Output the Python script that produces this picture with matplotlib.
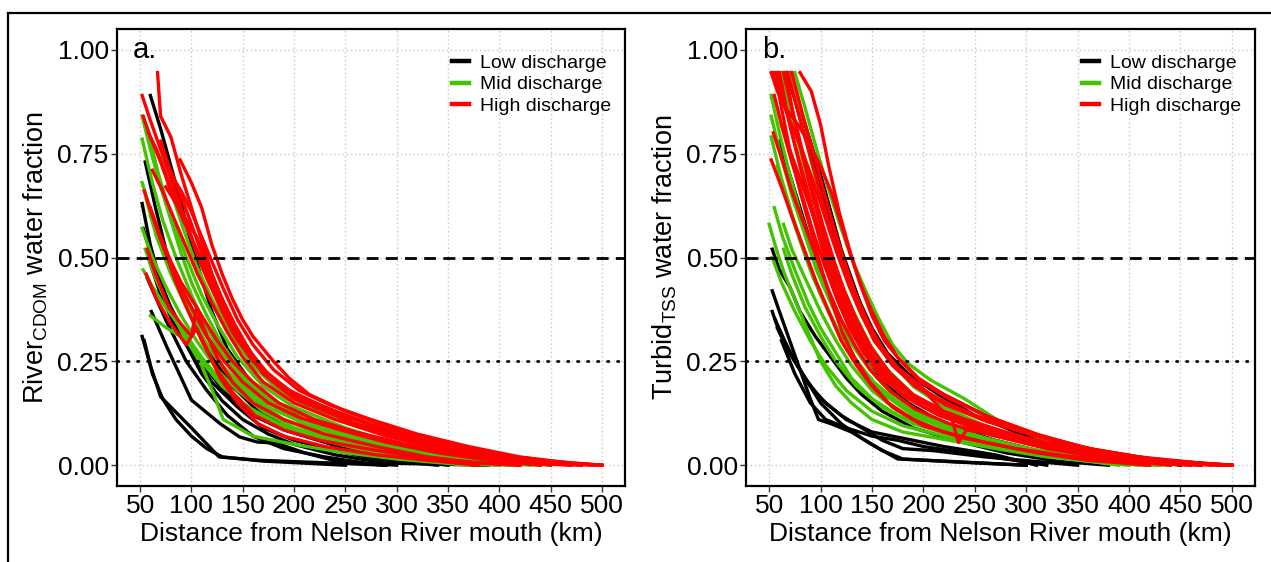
import matplotlib
matplotlib.use("Agg")
import matplotlib.pyplot as plt
from matplotlib.lines import Line2D

plt.rcParams["font.family"] = ["Liberation Sans", "DejaVu Sans"]

# ---- data: each curve is a list of (distance km, water fraction) points ----
A_LOW = [
    [(52, 0.31), (60, 0.24), (70, 0.165), (76, 0.15), (100, 0.09), (127, 0.02), (165, 0.012), (240, 0.005), (290, 0.0)],
    [(54, 0.30), (62, 0.22), (72, 0.16), (85, 0.11), (100, 0.07), (115, 0.04), (130, 0.02), (170, 0.01), (250, 0.0)],
    [(61, 0.37), (76, 0.285), (100, 0.157), (128, 0.10), (147, 0.068), (164, 0.056), (183, 0.053), (210, 0.03), (238, 0.012), (287, 0.0)],
    [(52, 0.63), (60, 0.53), (70, 0.44), (80, 0.37), (95, 0.29), (110, 0.22), (130, 0.155), (150, 0.11), (175, 0.075), (200, 0.05), (240, 0.025), (290, 0.005), (390, 0.0)],
    [(60, 0.89), (70, 0.81), (80, 0.72), (90, 0.63), (100, 0.53), (110, 0.45), (120, 0.37), (135, 0.28), (155, 0.21), (180, 0.15), (210, 0.11), (250, 0.075), (300, 0.04), (350, 0.015), (390, 0.0)],
    [(55, 0.73), (65, 0.62), (75, 0.52), (90, 0.41), (105, 0.33), (120, 0.26), (140, 0.19), (165, 0.13), (200, 0.08), (250, 0.04), (300, 0.015), (350, 0.0)],
    [(53, 0.57), (65, 0.47), (80, 0.38), (95, 0.31), (115, 0.23), (135, 0.17), (160, 0.12), (190, 0.085), (230, 0.055), (270, 0.03), (320, 0.01), (380, 0.0)],
    [(58, 0.50), (70, 0.41), (85, 0.33), (100, 0.27), (120, 0.20), (145, 0.14), (170, 0.09), (200, 0.06), (240, 0.035), (280, 0.015), (340, 0.0)],
    [(57, 0.45), (75, 0.35), (95, 0.25), (115, 0.18), (135, 0.12), (160, 0.07), (190, 0.04), (230, 0.02), (270, 0.005), (300, 0.0)],
]

A_MID = [
    [(52, 0.84), (60, 0.76), (70, 0.67), (80, 0.59), (90, 0.51), (100, 0.44), (115, 0.36), (130, 0.29), (150, 0.22), (175, 0.16), (200, 0.12), (250, 0.075), (300, 0.04), (350, 0.02), (400, 0.005), (440, 0.0)],
    [(52, 0.785), (62, 0.68), (72, 0.59), (85, 0.50), (100, 0.41), (115, 0.33), (130, 0.27), (150, 0.21), (175, 0.15), (210, 0.10), (260, 0.06), (320, 0.03), (380, 0.01), (430, 0.0)],
    [(52, 0.68), (62, 0.60), (72, 0.52), (85, 0.44), (100, 0.36), (115, 0.29), (135, 0.22), (160, 0.16), (190, 0.11), (230, 0.07), (280, 0.04), (340, 0.015), (400, 0.0)],
    [(52, 0.57), (62, 0.50), (75, 0.43), (90, 0.36), (105, 0.30), (125, 0.23), (145, 0.18), (170, 0.13), (200, 0.09), (250, 0.05), (300, 0.025), (360, 0.005), (410, 0.0)],
    [(53, 0.47), (62, 0.43), (75, 0.38), (90, 0.33), (110, 0.26), (130, 0.20), (150, 0.15), (180, 0.10), (220, 0.065), (270, 0.035), (330, 0.01), (380, 0.0)],
    [(60, 0.36), (76, 0.33), (96, 0.30), (110, 0.24), (122, 0.17), (131, 0.11), (160, 0.07), (200, 0.05), (250, 0.03), (300, 0.015), (370, 0.0)],
    [(58, 0.80), (68, 0.70), (80, 0.60), (95, 0.50), (110, 0.41), (125, 0.34), (145, 0.26), (170, 0.19), (200, 0.14), (250, 0.09), (300, 0.05), (360, 0.02), (420, 0.0)],
    [(65, 0.58), (75, 0.50), (90, 0.42), (105, 0.35), (120, 0.29), (140, 0.23), (160, 0.18), (190, 0.13), (230, 0.09), (280, 0.05), (340, 0.02), (400, 0.0)],
    [(56, 0.64), (66, 0.55), (80, 0.46), (95, 0.38), (110, 0.31), (130, 0.24), (150, 0.19), (175, 0.14), (210, 0.10), (260, 0.06), (320, 0.025), (390, 0.0)],
    [(70, 0.74), (80, 0.66), (92, 0.57), (105, 0.48), (120, 0.40), (140, 0.31), (160, 0.24), (185, 0.18), (215, 0.14), (260, 0.10), (300, 0.07), (350, 0.035), (400, 0.015), (450, 0.0)],
    [(55, 0.52), (65, 0.45), (80, 0.37), (95, 0.30), (110, 0.25), (130, 0.19), (155, 0.14), (185, 0.10), (230, 0.06), (290, 0.03), (350, 0.01), (400, 0.0)],
    [(60, 0.60), (72, 0.52), (85, 0.45), (100, 0.38), (115, 0.31), (130, 0.27), (150, 0.22), (170, 0.17), (200, 0.13), (240, 0.09), (280, 0.06), (330, 0.03), (380, 0.01), (420, 0.0)],
]

A_HIGH = [
    [(67, 0.945), (70, 0.84), (80, 0.79), (90, 0.70), (100, 0.62), (110, 0.54), (120, 0.46), (135, 0.37), (150, 0.30), (170, 0.23), (195, 0.18), (220, 0.15), (260, 0.11), (300, 0.075), (350, 0.04), (400, 0.02), (450, 0.008), (500, 0.0)],
    [(52, 0.89), (60, 0.83), (70, 0.76), (80, 0.69), (90, 0.62), (100, 0.55), (110, 0.48), (125, 0.40), (140, 0.32), (160, 0.25), (185, 0.19), (215, 0.15), (260, 0.10), (300, 0.07), (350, 0.04), (400, 0.02), (450, 0.005), (490, 0.0)],
    [(53, 0.84), (60, 0.79), (70, 0.73), (80, 0.66), (92, 0.59), (105, 0.52), (120, 0.44), (135, 0.36), (150, 0.29), (170, 0.22), (200, 0.16), (240, 0.12), (280, 0.08), (330, 0.045), (380, 0.02), (430, 0.005), (470, 0.0)],
    [(89, 0.735), (100, 0.68), (110, 0.62), (120, 0.53), (130, 0.46), (140, 0.40), (150, 0.35), (160, 0.31), (170, 0.28), (180, 0.25), (195, 0.21), (215, 0.17), (250, 0.13), (300, 0.085), (350, 0.05), (400, 0.025), (450, 0.01), (500, 0.0)],
    [(57, 0.52), (65, 0.46), (78, 0.38), (90, 0.34), (100, 0.31), (105, 0.38), (112, 0.33), (125, 0.26), (140, 0.20), (160, 0.15), (190, 0.11), (230, 0.075), (280, 0.045), (330, 0.02), (380, 0.005), (420, 0.0)],
    [(58, 0.80), (66, 0.76), (75, 0.70), (85, 0.64), (95, 0.58), (105, 0.51), (115, 0.45), (130, 0.37), (145, 0.30), (165, 0.24), (190, 0.18), (220, 0.145), (260, 0.11), (310, 0.07), (360, 0.04), (410, 0.02), (460, 0.005), (500, 0.0)],
    [(70, 0.78), (78, 0.72), (88, 0.66), (100, 0.58), (110, 0.51), (122, 0.43), (135, 0.36), (150, 0.29), (170, 0.23), (195, 0.18), (230, 0.14), (270, 0.10), (320, 0.06), (370, 0.035), (420, 0.015), (470, 0.0)],
    [(62, 0.71), (72, 0.66), (82, 0.60), (94, 0.53), (106, 0.46), (120, 0.39), (135, 0.32), (150, 0.26), (170, 0.20), (200, 0.15), (240, 0.11), (290, 0.07), (340, 0.04), (390, 0.02), (440, 0.005), (480, 0.0)],
    [(75, 0.67), (85, 0.63), (95, 0.59), (105, 0.55), (115, 0.49), (128, 0.41), (142, 0.34), (158, 0.27), (178, 0.21), (205, 0.165), (240, 0.13), (280, 0.095), (330, 0.06), (380, 0.03), (430, 0.012), (480, 0.0)],
    [(60, 0.62), (70, 0.55), (80, 0.49), (90, 0.44), (100, 0.40), (110, 0.36), (125, 0.30), (140, 0.25), (160, 0.20), (185, 0.15), (220, 0.11), (260, 0.08), (310, 0.05), (360, 0.025), (410, 0.01), (450, 0.0)],
    [(56, 0.46), (66, 0.40), (80, 0.34), (95, 0.29), (105, 0.33), (115, 0.28), (128, 0.21), (145, 0.15), (165, 0.10), (190, 0.07), (230, 0.045), (280, 0.025), (330, 0.012), (380, 0.0)],
    [(80, 0.70), (90, 0.66), (100, 0.61), (110, 0.55), (120, 0.49), (132, 0.42), (145, 0.35), (160, 0.29), (180, 0.23), (205, 0.18), (235, 0.145), (275, 0.11), (320, 0.075), (370, 0.045), (420, 0.02), (470, 0.005), (500, 0.0)],
    [(65, 0.58), (75, 0.51), (85, 0.44), (97, 0.37), (110, 0.30), (125, 0.23), (142, 0.17), (162, 0.12), (190, 0.085), (225, 0.06), (270, 0.04), (320, 0.02), (370, 0.008), (420, 0.0)],
    [(54, 0.66), (62, 0.60), (72, 0.53), (85, 0.45), (100, 0.38), (115, 0.31), (132, 0.25), (150, 0.20), (175, 0.15), (205, 0.115), (245, 0.085), (290, 0.055), (340, 0.03), (390, 0.012), (440, 0.0)],
]

B_LOW = [
    [(53, 0.42), (60, 0.37), (70, 0.30), (80, 0.23), (90, 0.16), (98, 0.11), (110, 0.10), (130, 0.08), (150, 0.05), (175, 0.015), (220, 0.01), (300, 0.0)],
    [(53, 0.37), (60, 0.32), (70, 0.27), (85, 0.21), (100, 0.16), (120, 0.12), (140, 0.09), (160, 0.06), (180, 0.04), (210, 0.035), (260, 0.02), (350, 0.0)],
    [(56, 0.35), (65, 0.30), (75, 0.25), (90, 0.19), (105, 0.15), (125, 0.11), (150, 0.08), (180, 0.065), (220, 0.045), (270, 0.025), (310, 0.0)],
    [(58, 0.33), (70, 0.27), (85, 0.21), (100, 0.15), (120, 0.10), (140, 0.065), (160, 0.035), (180, 0.015), (230, 0.008), (300, 0.0)],
    [(53, 0.52), (60, 0.47), (70, 0.43), (80, 0.37), (95, 0.31), (110, 0.26), (125, 0.21), (140, 0.17), (160, 0.13), (190, 0.09), (230, 0.06), (280, 0.03), (330, 0.01), (380, 0.0)],
    [(70, 0.945), (80, 0.86), (90, 0.78), (100, 0.70), (110, 0.61), (120, 0.52), (130, 0.45), (140, 0.38), (155, 0.30), (170, 0.25), (190, 0.21), (220, 0.17), (260, 0.12), (310, 0.065), (360, 0.03), (420, 0.01), (470, 0.0)],
    [(67, 0.945), (75, 0.88), (85, 0.79), (95, 0.71), (105, 0.63), (115, 0.54), (125, 0.47), (135, 0.41), (150, 0.33), (165, 0.27), (185, 0.22), (215, 0.17), (250, 0.12), (300, 0.07), (350, 0.035), (400, 0.015), (450, 0.0)],
    [(60, 0.78), (70, 0.70), (80, 0.62), (90, 0.54), (100, 0.46), (112, 0.39), (125, 0.32), (140, 0.26), (160, 0.20), (185, 0.15), (220, 0.10), (270, 0.06), (320, 0.03), (370, 0.01), (420, 0.0)],
    [(62, 0.30), (75, 0.22), (90, 0.15), (105, 0.11), (125, 0.09), (150, 0.07), (175, 0.06), (200, 0.045), (240, 0.03), (280, 0.015), (320, 0.0)],
]

B_MID = [
    [(50, 0.58), (57, 0.52), (65, 0.46), (75, 0.40), (88, 0.32), (100, 0.25), (115, 0.19), (130, 0.15), (150, 0.11), (180, 0.08), (225, 0.06), (270, 0.04), (320, 0.02), (380, 0.005), (430, 0.0)],
    [(64, 0.58), (72, 0.52), (85, 0.45), (100, 0.37), (115, 0.30), (130, 0.24), (150, 0.18), (175, 0.13), (210, 0.09), (260, 0.055), (320, 0.025), (380, 0.008), (430, 0.0)],
    [(64, 0.52), (72, 0.46), (85, 0.38), (100, 0.31), (115, 0.25), (135, 0.19), (160, 0.14), (190, 0.10), (230, 0.07), (280, 0.04), (340, 0.015), (400, 0.0)],
    [(52, 0.89), (60, 0.80), (70, 0.70), (80, 0.61), (92, 0.52), (105, 0.43), (120, 0.35), (135, 0.28), (155, 0.21), (180, 0.15), (215, 0.10), (260, 0.065), (320, 0.03), (380, 0.01), (440, 0.0)],
    [(52, 0.84), (62, 0.74), (72, 0.65), (84, 0.56), (96, 0.47), (110, 0.39), (125, 0.31), (145, 0.24), (170, 0.17), (200, 0.12), (240, 0.08), (290, 0.045), (350, 0.02), (410, 0.0)],
    [(52, 0.79), (62, 0.69), (74, 0.59), (86, 0.50), (100, 0.41), (115, 0.33), (132, 0.26), (152, 0.20), (178, 0.145), (210, 0.10), (250, 0.07), (300, 0.04), (360, 0.015), (420, 0.0)],
    [(75, 0.945), (85, 0.86), (95, 0.77), (107, 0.67), (120, 0.57), (130, 0.50), (142, 0.43), (155, 0.36), (170, 0.29), (185, 0.245), (207, 0.205), (240, 0.16), (275, 0.104), (333, 0.044), (401, 0.019), (450, 0.007), (498, 0.0)],
    [(62, 0.945), (70, 0.86), (80, 0.76), (92, 0.65), (105, 0.54), (118, 0.45), (132, 0.37), (148, 0.29), (165, 0.23), (190, 0.17), (225, 0.12), (270, 0.08), (330, 0.04), (390, 0.015), (440, 0.0)],
    [(70, 0.945), (80, 0.84), (92, 0.72), (105, 0.60), (118, 0.50), (132, 0.41), (148, 0.33), (165, 0.26), (190, 0.19), (220, 0.14), (260, 0.095), (310, 0.055), (370, 0.025), (430, 0.0)],
    [(55, 0.62), (63, 0.55), (75, 0.47), (88, 0.39), (100, 0.33), (115, 0.27), (130, 0.21), (150, 0.16), (175, 0.12), (210, 0.09), (250, 0.06), (300, 0.035), (360, 0.012), (410, 0.0)],
    [(58, 0.72), (68, 0.63), (80, 0.54), (93, 0.45), (108, 0.37), (122, 0.30), (140, 0.23), (162, 0.17), (190, 0.12), (230, 0.08), (280, 0.05), (340, 0.02), (400, 0.0)],
    [(53, 0.50), (62, 0.44), (75, 0.37), (90, 0.30), (105, 0.24), (125, 0.18), (150, 0.13), (180, 0.095), (220, 0.07), (270, 0.045), (330, 0.02), (390, 0.0)],
]

B_HIGH = [
    [(52, 0.945), (58, 0.90), (66, 0.86), (78, 0.82), (90, 0.77), (100, 0.72), (110, 0.66), (120, 0.58), (130, 0.50), (140, 0.43), (150, 0.37), (162, 0.31), (175, 0.26), (195, 0.21), (220, 0.17), (260, 0.12), (310, 0.075), (360, 0.04), (420, 0.015), (470, 0.005), (500, 0.0)],
    [(80, 0.945), (91, 0.90), (100, 0.82), (108, 0.72), (118, 0.61), (128, 0.52), (138, 0.44), (150, 0.36), (162, 0.30), (178, 0.25), (198, 0.20), (225, 0.16), (265, 0.115), (315, 0.07), (370, 0.035), (430, 0.012), (500, 0.0)],
    [(52, 0.735), (62, 0.67), (72, 0.60), (84, 0.52), (96, 0.44), (108, 0.37), (120, 0.30), (135, 0.24), (150, 0.19), (170, 0.14), (200, 0.095), (240, 0.065), (290, 0.04), (340, 0.022), (400, 0.008), (460, 0.0)],
    [(60, 0.945), (66, 0.87), (74, 0.78), (84, 0.68), (94, 0.59), (104, 0.50), (115, 0.42), (127, 0.35), (140, 0.29), (155, 0.235), (175, 0.18), (200, 0.14), (240, 0.10), (290, 0.065), (340, 0.035), (400, 0.015), (460, 0.0)],
    [(64, 0.945), (72, 0.86), (82, 0.76), (92, 0.67), (102, 0.58), (112, 0.50), (123, 0.42), (135, 0.35), (150, 0.28), (168, 0.22), (190, 0.17), (220, 0.13), (260, 0.09), (310, 0.055), (370, 0.025), (430, 0.008), (480, 0.0)],
    [(55, 0.89), (63, 0.81), (72, 0.73), (82, 0.65), (93, 0.56), (104, 0.48), (116, 0.40), (128, 0.33), (142, 0.27), (160, 0.21), (185, 0.16), (215, 0.12), (255, 0.085), (305, 0.05), (360, 0.025), (420, 0.008), (470, 0.0)],
    [(68, 0.945), (76, 0.87), (86, 0.78), (96, 0.69), (106, 0.60), (116, 0.52), (127, 0.44), (139, 0.37), (152, 0.30), (168, 0.25), (188, 0.20), (215, 0.16), (250, 0.12), (300, 0.08), (350, 0.045), (410, 0.02), (470, 0.005), (500, 0.0)],
    [(58, 0.945), (64, 0.88), (72, 0.80), (82, 0.71), (93, 0.61), (104, 0.52), (115, 0.44), (126, 0.37), (140, 0.30), (155, 0.24), (175, 0.19), (200, 0.15), (235, 0.115), (280, 0.08), (330, 0.045), (390, 0.02), (450, 0.005), (490, 0.0)],
    [(54, 0.80), (62, 0.74), (72, 0.66), (84, 0.58), (96, 0.50), (108, 0.42), (120, 0.35), (133, 0.29), (148, 0.23), (167, 0.18), (192, 0.135), (225, 0.10), (270, 0.07), (320, 0.04), (380, 0.015), (440, 0.0)],
    [(62, 0.82), (70, 0.76), (80, 0.69), (90, 0.62), (100, 0.55), (111, 0.47), (122, 0.40), (134, 0.33), (148, 0.27), (165, 0.22), (188, 0.17), (220, 0.13), (255, 0.095), (300, 0.065), (350, 0.04), (400, 0.02), (450, 0.006), (500, 0.0)],
    [(72, 0.945), (82, 0.85), (92, 0.76), (102, 0.67), (112, 0.58), (122, 0.50), (133, 0.42), (145, 0.35), (158, 0.29), (175, 0.235), (198, 0.19), (215, 0.14), (228, 0.11), (234, 0.055), (242, 0.085), (280, 0.07), (330, 0.045), (390, 0.02), (450, 0.006), (500, 0.0)],
    [(56, 0.945), (62, 0.86), (70, 0.76), (80, 0.66), (90, 0.57), (100, 0.48), (110, 0.40), (121, 0.32), (133, 0.26), (148, 0.20), (166, 0.15), (190, 0.11), (220, 0.08), (260, 0.055), (310, 0.03), (360, 0.012), (420, 0.0)],
    [(66, 0.945), (73, 0.85), (82, 0.75), (92, 0.65), (102, 0.56), (113, 0.47), (125, 0.39), (138, 0.32), (152, 0.26), (170, 0.20), (195, 0.155), (230, 0.115), (275, 0.08), (325, 0.05), (380, 0.025), (440, 0.008), (490, 0.0)],
    [(54, 0.945), (61, 0.89), (70, 0.83), (80, 0.77), (92, 0.69), (104, 0.60), (116, 0.51), (128, 0.43), (140, 0.36), (153, 0.30), (170, 0.24), (192, 0.19), (222, 0.145), (262, 0.105), (312, 0.068), (365, 0.038), (420, 0.016), (480, 0.002), (500, 0.0)],
]

X_TICKS = [50, 100, 150, 200, 250, 300, 350, 400, 450, 500]
Y_TICKS = [0.0, 0.25, 0.5, 0.75, 1.0]
Y_TICK_LABELS = ["0.00", "0.25", "0.50", "0.75", "1.00"]
GROUP_LABELS = ["Low discharge", "Mid discharge", "High discharge"]
GROUP_COLORS = ["black", "#44C400", "#FF0000"]

W, H = 1271, 562
fig = plt.figure(figsize=(W / 100, H / 100), dpi=100)

# thin frame line along top and left edge of the image
fig.add_artist(Line2D([8 / W, 1.0], [1 - 13 / H, 1 - 13 / H], transform=fig.transFigure, color="black", lw=1.6))
fig.add_artist(Line2D([8 / W, 8 / W], [0.0, 1 - 13 / H], transform=fig.transFigure, color="black", lw=1.6))


def draw_panel(ax, groups, tag, ylabel):
    for curves, color in zip(groups, GROUP_COLORS):
        for pts in curves:
            xs = [p[0] for p in pts]
            ys = [p[1] for p in pts]
            ax.plot(xs, ys, color=color, lw=2.4, solid_joinstyle="round", zorder=3)
    ax.axhline(0.5, color="black", lw=2, linestyle=(0, (4.3, 2.6)), zorder=4)
    ax.axhline(0.25, color="black", lw=2, linestyle=(0, (0.5, 3.1)), dash_capstyle="round", zorder=4)
    ax.set_xlim(27.5, 522.5)
    ax.set_ylim(-0.05, 1.05)
    ax.set_xticks(X_TICKS)
    ax.set_yticks(Y_TICKS)
    ax.set_yticklabels(Y_TICK_LABELS)
    ax.grid(True, color="#c8c8c8", linestyle=(0, (1, 2)), lw=1, zorder=0)
    ax.tick_params(labelsize=19, length=4, width=1, color="#333333", pad=2)
    for s in ax.spines.values():
        s.set_linewidth(1.6)
    ax.set_xlabel("Distance from Nelson River mouth (km)", fontsize=19, labelpad=3)
    ax.set_ylabel(ylabel, fontsize=19.5, labelpad=5)
    ax.text(43, 1.0, tag, fontsize=21, ha="left", va="center")
    handles = [Line2D([], [], color=c, lw=3.2) for c in GROUP_COLORS]
    ax.legend(handles, GROUP_LABELS, loc="upper right", bbox_to_anchor=(0.995, 0.97),
              frameon=False, fontsize=14, handlelength=0.85, handletextpad=0.55,
              labelspacing=0.2, borderaxespad=0.2)


ax1 = fig.add_axes([117 / W, 76 / H, 508 / W, 457 / H])
ax2 = fig.add_axes([746 / W, 76 / H, 509 / W, 457 / H])
draw_panel(ax1, [A_LOW, A_MID, A_HIGH], "a.", r"River$_{\mathregular{CDOM}}$ water fraction")
draw_panel(ax2, [B_LOW, B_MID, B_HIGH], "b.", r"Turbid$_{\mathregular{TSS}}$ water fraction")

fig.savefig("out.png", dpi=100)
